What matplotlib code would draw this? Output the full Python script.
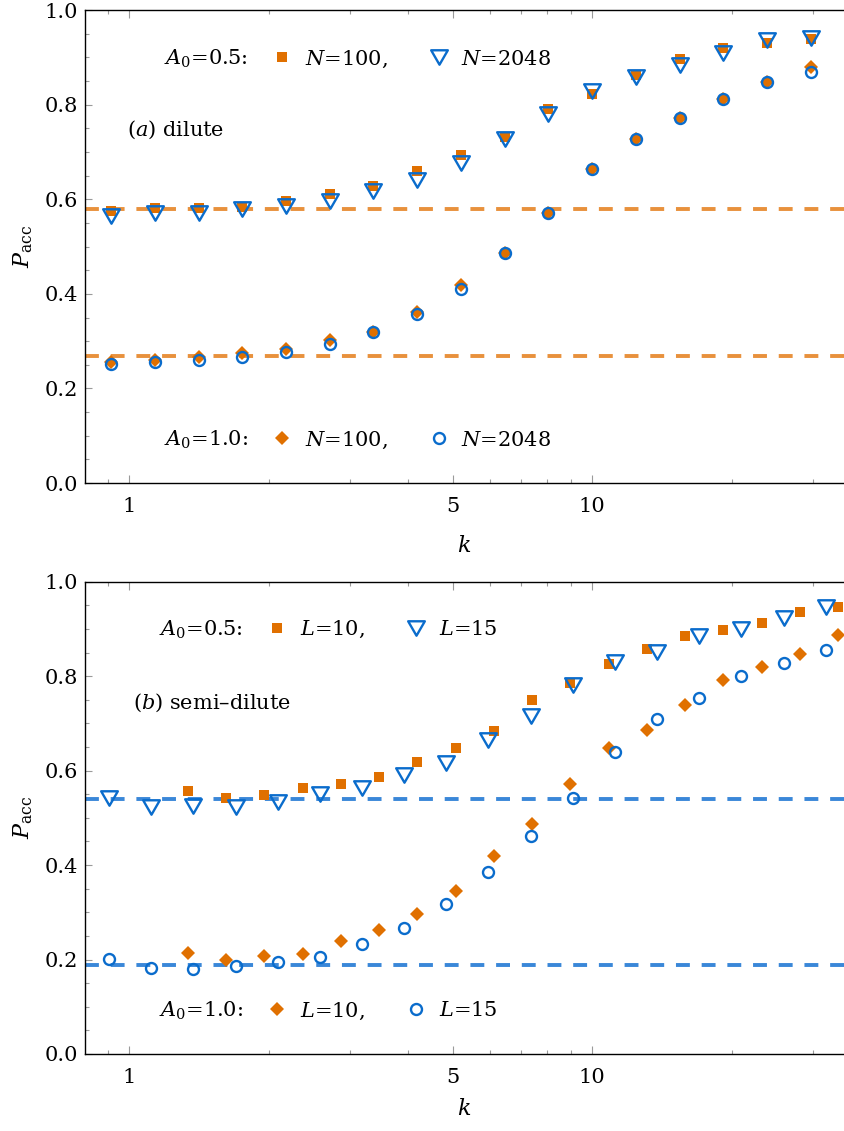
import numpy as np
import matplotlib.pyplot as plt
from matplotlib.path import Path
from matplotlib.markers import MarkerStyle
from matplotlib.legend import Legend
from matplotlib.ticker import FixedLocator, NullFormatter, MultipleLocator, FormatStrFormatter, FuncFormatter

plt.rcParams['font.family'] = 'DejaVu Serif'
plt.rcParams['mathtext.fontset'] = 'dejavuserif'
plt.rcParams['font.size'] = 15
plt.rcParams['lines.scale_dashes'] = False

# (a) dilute: both system sizes share the same k grid
k_a = [0.913, 1.135, 1.411, 1.753, 2.179, 2.708, 3.367, 4.184, 5.202, 6.464,
       8.035, 9.986, 12.41, 15.43, 19.18, 23.84, 29.63]
a05_n100 = [0.576, 0.581, 0.581, 0.584, 0.596, 0.612, 0.628, 0.659, 0.693, 0.731,
            0.791, 0.822, 0.862, 0.897, 0.920, 0.931, 0.939]
a05_n2048 = [0.565, 0.571, 0.572, 0.580, 0.586, 0.597, 0.617, 0.640, 0.677, 0.728,
             0.780, 0.829, 0.859, 0.883, 0.910, 0.937, 0.941]
a10_n100 = [0.255, 0.260, 0.267, 0.274, 0.283, 0.302, 0.319, 0.362, 0.419, 0.486,
            0.571, 0.665, 0.727, 0.772, 0.812, 0.847, 0.880]
a10_n2048 = [0.251, 0.256, 0.260, 0.267, 0.277, 0.295, 0.319, 0.357, 0.410, 0.486,
             0.571, 0.665, 0.727, 0.772, 0.812, 0.847, 0.870]
limits_a = [0.579, 0.269]

# (b) semi-dilute: separate k grids for L=10 and L=15
k_b10 = [1.337, 1.617, 1.956, 2.366, 2.862, 3.462, 4.188, 5.066, 6.129, 7.413,
         8.968, 10.85, 13.12, 15.87, 19.20, 23.22, 28.09, 33.98]
k_b15 = [0.904, 1.115, 1.375, 1.696, 2.091, 2.579, 3.180, 3.923, 4.838, 5.967,
         7.360, 9.074, 11.19, 13.80, 17.02, 20.99, 25.89, 31.93]
a05_l10 = [0.557, 0.543, 0.548, 0.564, 0.571, 0.587, 0.618, 0.647, 0.683, 0.749,
           0.786, 0.825, 0.858, 0.886, 0.898, 0.912, 0.935, 0.947]
a05_l15 = [0.542, 0.522, 0.525, 0.522, 0.534, 0.551, 0.564, 0.591, 0.617, 0.665,
           0.716, 0.781, 0.829, 0.852, 0.886, 0.900, 0.923, 0.946]
a10_l10 = [0.213, 0.198, 0.208, 0.211, 0.240, 0.263, 0.297, 0.346, 0.420, 0.487,
           0.572, 0.647, 0.686, 0.738, 0.791, 0.820, 0.846, 0.888]
a10_l15 = [0.201, 0.183, 0.180, 0.187, 0.194, 0.206, 0.233, 0.266, 0.318, 0.386,
           0.462, 0.541, 0.640, 0.710, 0.754, 0.800, 0.827, 0.856]
limits_b = [0.540, 0.189]

x_major = [1, 5, 10]
x_minor = [0.9, 2, 3, 4, 6, 7, 8, 9, 20, 30]

orange = '#E07000'
blue = '#0a6ccc'
dash_orange = '#E8913C'
dash_blue = '#3A87D8'

tri_down = MarkerStyle(Path([(-1, 0.866), (1, 0.866), (0, -0.866), (-1, 0.866)],
                            [Path.MOVETO, Path.LINETO, Path.LINETO, Path.CLOSEPOLY]),
                       joinstyle='miter')

sq = dict(marker='s', ms=7.9, mew=0, color=orange, ls='none', zorder=3)
dia = dict(marker='D', ms=7.3, mew=0, color=orange, ls='none', zorder=3)
tri = dict(marker=tri_down, ms=12.0, mew=1.7, mec=blue, mfc='none', ls='none', zorder=4)
circ = dict(marker='o', ms=7.9, mew=1.7, mec=blue, mfc='none', ls='none', zorder=4)

fig = plt.figure(figsize=(8.44, 11.31), dpi=100)
ax_a = fig.add_axes([0.1007, 0.5729, 0.8993, 0.4182])
ax_b = fig.add_axes([0.1007, 0.0681, 0.8993, 0.4176])


def style_axes(ax, xpad):
    ax.set_xscale('log')
    ax.set_xlim(0.802, 34.97)
    ax.set_ylim(0, 1)
    ax.xaxis.set_major_locator(FixedLocator(x_major))
    ax.xaxis.set_minor_locator(FixedLocator(x_minor))
    ax.xaxis.set_major_formatter(FuncFormatter(lambda v, p: f'{v:g}'))
    ax.xaxis.set_minor_formatter(NullFormatter())
    ax.yaxis.set_major_locator(MultipleLocator(0.2))
    ax.yaxis.set_minor_locator(MultipleLocator(0.05))
    ax.yaxis.set_major_formatter(FormatStrFormatter('%.1f'))
    ax.spines['right'].set_visible(False)
    for s in ['left', 'bottom', 'top']:
        ax.spines[s].set_linewidth(1.0)
    ax.tick_params(which='both', direction='in', top=True, right=False,
                   color='#9a9a9a', width=0.8)
    ax.tick_params(which='major', length=5, labelsize=15)
    ax.tick_params(axis='x', which='major', length=6, pad=10)
    ax.tick_params(axis='y', which='major', pad=5)
    ax.tick_params(which='minor', length=3)
    ax.set_xlabel('$k$', fontsize=16, labelpad=xpad)
    ax.set_ylabel(r'$P_{\rm acc}$', fontsize=16, labelpad=7)


def legend_row(ax, label, handles, names, x_text, x_leg, y):
    ax.text(x_text, y, label, transform=ax.transAxes, ha='right', va='center', fontsize=15)
    leg = Legend(ax, handles, names, ncol=2, loc='center left',
                 bbox_to_anchor=(x_leg, y), frameon=False, numpoints=1,
                 handlelength=1.0, handletextpad=0.6, columnspacing=1.95,
                 borderpad=0, borderaxespad=0, fontsize=15)
    ax.add_artist(leg)


# panel (a)
style_axes(ax_a, 14)
for yv in limits_a:
    ax_a.axhline(yv, color=dash_orange, lw=2.8, ls=(0, (10, 8.5)), zorder=1)
h1, = ax_a.plot(k_a, a05_n100, **sq)
h2, = ax_a.plot(k_a, a05_n2048, **tri)
h3, = ax_a.plot(k_a, a10_n100, **dia)
h4, = ax_a.plot(k_a, a10_n2048, **circ)
legend_row(ax_a, '$A_0$=0.5:', [h1, h2], ['$N$=100,', '$N$=2048'], 0.2148, 0.2458, 0.896)
legend_row(ax_a, '$A_0$=1.0:', [h3, h4], ['$N$=100,', '$N$=2048'], 0.2148, 0.2458, 0.091)
ax_a.text(0.0553, 0.746, '($a$) dilute', transform=ax_a.transAxes, ha='left', va='center', fontsize=15)

# panel (b)
style_axes(ax_b, 8)
for yv in limits_b:
    ax_b.axhline(yv, color=dash_blue, lw=2.8, ls=(0, (10, 8.5)), zorder=1)
g1, = ax_b.plot(k_b10, a05_l10, **sq)
g2, = ax_b.plot(k_b15, a05_l15, **tri)
g3, = ax_b.plot(k_b10, a10_l10, **dia)
g4, = ax_b.plot(k_b15, a10_l15, **circ)
legend_row(ax_b, '$A_0$=0.5:', [g1, g2], ['$L$=10,', '$L$=15'], 0.2082, 0.2393, 0.898)
legend_row(ax_b, '$A_0$=1.0:', [g3, g4], ['$L$=10,', '$L$=15'], 0.2082, 0.2393, 0.091)
ax_b.text(0.0632, 0.744, '($b$) semi\u2013dilute', transform=ax_b.transAxes, ha='left', va='center', fontsize=15)

fig.savefig('out.png', dpi=100)
